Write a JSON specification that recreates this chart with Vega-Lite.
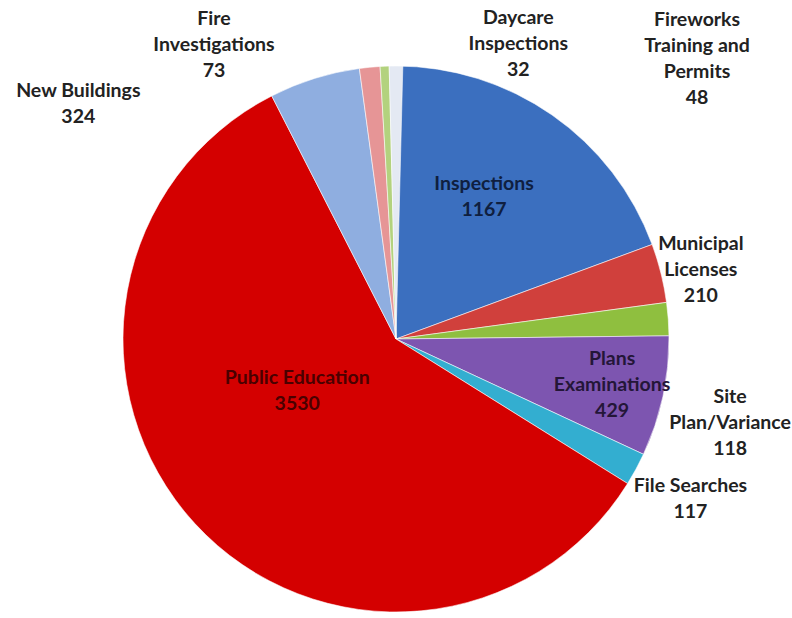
{
  "$schema": "https://vega.github.io/schema/vega-lite/v6.json",
  "width": 792,
  "height": 558,
  "autosize": "none",
  "padding": {"top": 60, "left": 0, "right": 0, "bottom": 0},
  "background": "white",
  "view": {"stroke": null},
  "data": {"values": [
    {"rank": 1, "name": "Inspections", "label": "Inspections", "value": 1167},
    {"rank": 2, "name": "Municipal Licenses", "label": "Municipal\nLicenses", "value": 210},
    {"rank": 3, "name": "Site Plan/Variance", "label": "Site\nPlan/Variance", "value": 118},
    {"rank": 4, "name": "Plans Examinations", "label": "Plans\nExaminations", "value": 429},
    {"rank": 5, "name": "File Searches", "label": "File Searches", "value": 117},
    {"rank": 6, "name": "Public Education", "label": "Public Education", "value": 3530},
    {"rank": 7, "name": "New Buildings", "label": "New Buildings", "value": 324},
    {"rank": 8, "name": "Fire Investigations", "label": "Fire\nInvestigations", "value": 73},
    {"rank": 9, "name": "Daycare Inspections", "label": "Daycare\nInspections", "value": 32},
    {"rank": 10, "name": "Fireworks Training and Permits", "label": "Fireworks\nTraining and\nPermits", "value": 48}
  ]},
  "transform": [
    {"stack": "value", "groupby": [], "sort": [{"field": "rank", "order": "ascending"}], "as": ["v0", "v1"]},
    {"calculate": "(datum.v0 + datum.v1) / 2", "as": "mid"},
    {"calculate": "datum.label + '\\n' + datum.value", "as": "text"}
  ],
  "layer": [
    {
      "mark": {"type": "arc", "outerRadius": 273, "stroke": "#ffffff", "strokeWidth": 0.8, "strokeOpacity": 0.7},
      "encoding": {
        "theta": {"field": "v0", "type": "quantitative"},
        "theta2": {"field": "v1"},
        "color": {
          "field": "name", "type": "nominal", "legend": null,
          "scale": {
            "domain": ["Inspections", "Municipal Licenses", "Site Plan/Variance", "Plans Examinations", "File Searches", "Public Education", "New Buildings", "Fire Investigations", "Daycare Inspections", "Fireworks Training and Permits"],
            "range": ["#3b6fbf", "#d0403c", "#8fbf3f", "#7d55b0", "#33aed0", "#d40000", "#8faee0", "#e69596", "#b3d27e", "#e4e9f3"]
          }
        }
      }
    },
    {
      "transform": [{"filter": {"field": "name", "oneOf": ["Inspections"]}}],
      "mark": {"type": "text", "radius": 168, "dx": -8, "dy": -17, "font": "Lato", "fontWeight": "bold", "fontSize": 19.5, "lineHeight": 26, "lineBreak": "\n", "align": "center", "baseline": "middle", "fill": "#0f1f40"},
      "encoding": {"theta": {"field": "mid", "type": "quantitative"}, "text": {"field": "text"}}
    },
    {
      "transform": [{"filter": {"field": "name", "oneOf": ["Municipal Licenses"]}}],
      "mark": {"type": "text", "radius": 310, "dx": 4, "dy": -20, "font": "Lato", "fontWeight": "bold", "fontSize": 19.5, "lineHeight": 26, "lineBreak": "\n", "align": "center", "baseline": "middle", "fill": "#222222"},
      "encoding": {"theta": {"field": "mid", "type": "quantitative"}, "text": {"field": "text"}}
    },
    {
      "transform": [{"filter": {"field": "name", "oneOf": ["Site Plan/Variance"]}}],
      "mark": {"type": "text", "radius": 335, "dx": 0, "dy": 82, "font": "Lato", "fontWeight": "bold", "fontSize": 19.5, "lineHeight": 26, "lineBreak": "\n", "align": "center", "baseline": "middle", "fill": "#222222"},
      "encoding": {"theta": {"field": "mid", "type": "quantitative"}, "text": {"field": "text"}}
    },
    {
      "transform": [{"filter": {"field": "name", "oneOf": ["Plans Examinations"]}}],
      "mark": {"type": "text", "radius": 220, "dx": 1, "dy": -26, "font": "Lato", "fontWeight": "bold", "fontSize": 19.5, "lineHeight": 26, "lineBreak": "\n", "align": "center", "baseline": "middle", "fill": "#241638"},
      "encoding": {"theta": {"field": "mid", "type": "quantitative"}, "text": {"field": "text"}}
    },
    {
      "transform": [{"filter": {"field": "name", "oneOf": ["File Searches"]}}],
      "mark": {"type": "text", "radius": 335, "dx": 0, "dy": -13, "font": "Lato", "fontWeight": "bold", "fontSize": 19.5, "lineHeight": 26, "lineBreak": "\n", "align": "center", "baseline": "middle", "fill": "#222222"},
      "encoding": {"theta": {"field": "mid", "type": "quantitative"}, "text": {"field": "text"}}
    },
    {
      "transform": [{"filter": {"field": "name", "oneOf": ["Public Education"]}}],
      "mark": {"type": "text", "radius": 111, "dx": -17, "dy": -36, "font": "Lato", "fontWeight": "bold", "fontSize": 19.5, "lineHeight": 26, "lineBreak": "\n", "align": "center", "baseline": "middle", "fill": "#4a0000"},
      "encoding": {"theta": {"field": "mid", "type": "quantitative"}, "text": {"field": "text"}}
    },
    {
      "transform": [{"filter": {"field": "name", "oneOf": ["New Buildings"]}}],
      "mark": {"type": "text", "radius": 280, "dx": -234, "dy": 19, "font": "Lato", "fontWeight": "bold", "fontSize": 19.5, "lineHeight": 26, "lineBreak": "\n", "align": "center", "baseline": "middle", "fill": "#222222"},
      "encoding": {"theta": {"field": "mid", "type": "quantitative"}, "text": {"field": "text"}}
    },
    {
      "transform": [{"filter": {"field": "name", "oneOf": ["Fire Investigations"]}}],
      "mark": {"type": "text", "radius": 280, "dx": -155, "dy": -41, "font": "Lato", "fontWeight": "bold", "fontSize": 19.5, "lineHeight": 26, "lineBreak": "\n", "align": "center", "baseline": "middle", "fill": "#222222"},
      "encoding": {"theta": {"field": "mid", "type": "quantitative"}, "text": {"field": "text"}}
    },
    {
      "transform": [{"filter": {"field": "name", "oneOf": ["Daycare Inspections"]}}],
      "mark": {"type": "text", "radius": 280, "dx": 134, "dy": -41, "font": "Lato", "fontWeight": "bold", "fontSize": 19.5, "lineHeight": 26, "lineBreak": "\n", "align": "center", "baseline": "middle", "fill": "#222222"},
      "encoding": {"theta": {"field": "mid", "type": "quantitative"}, "text": {"field": "text"}}
    },
    {
      "transform": [{"filter": {"field": "name", "oneOf": ["Fireworks Training and Permits"]}}],
      "mark": {"type": "text", "radius": 280, "dx": 301, "dy": -39, "font": "Lato", "fontWeight": "bold", "fontSize": 19.5, "lineHeight": 26, "lineBreak": "\n", "align": "center", "baseline": "middle", "fill": "#222222"},
      "encoding": {"theta": {"field": "mid", "type": "quantitative"}, "text": {"field": "text"}}
    }
  ]
}
